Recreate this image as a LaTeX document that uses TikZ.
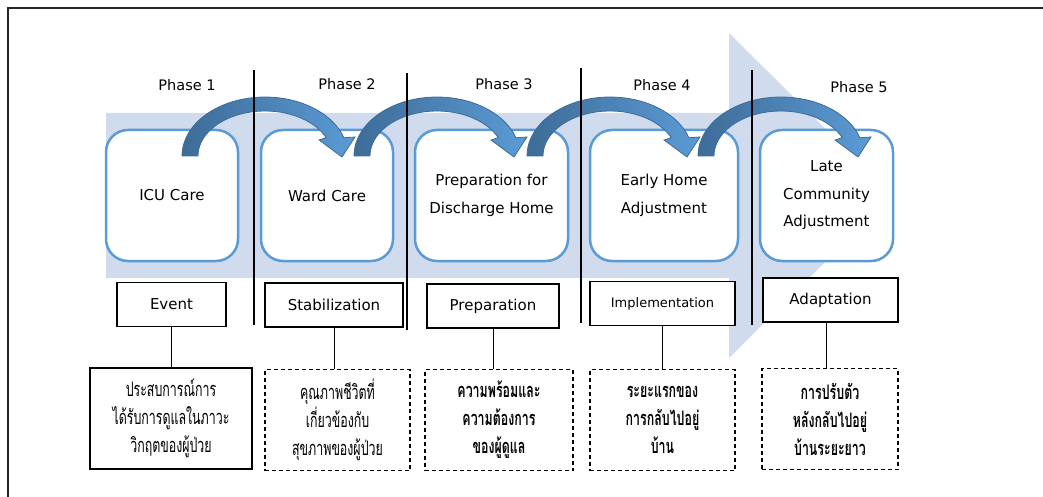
\documentclass[tikz,border=0pt]{standalone}
\usepackage{fontspec}
\setmainfont{DejaVu Sans}
\newfontfamily\thaifont[Script=Thai, FakeStretch=0.62]{Loma}
\definecolor{bandblue}{RGB}{208,220,238}
\definecolor{boxblue}{RGB}{91,155,213}
\definecolor{arrdark}{RGB}{62,108,152}
\definecolor{arrlight}{RGB}{91,155,213}
\begin{document}
\begin{tikzpicture}[x=1pt,y=-1pt,
  phaselbl/.style={inner sep=0pt, font=\fontsize{14.5}{17}\selectfont},
  stagebox/.style={draw=boxblue, line width=2.5pt, rounded corners=22pt, fill=white,
     minimum height=131pt, inner sep=0pt, align=center, font=\fontsize{15}{27.5}\selectfont},
  midbox/.style={draw=black, line width=1.2pt, fill=white, inner sep=0pt,
     minimum height=44pt, font=\fontsize{15}{18}\selectfont},
  thaibox/.style={draw=black, line width=1.2pt, fill=white, inner sep=0pt,
     minimum height=101pt, align=center, font=\thaifont\fontsize{20}{28}\selectfont},
  dashbox/.style={thaibox, dash pattern=on 4pt off 3pt},
  thaibold/.style={font=\thaifont\bfseries\fontsize{20}{28}\selectfont},
  divider/.style={line width=1.5pt, black},
  conn/.style={line width=1pt, black}
]
\useasboundingbox (0,0) rectangle (1043,497);
% frame
\draw[line width=1.2pt, black!85] (8,497) -- (8,8) -- (1043,8);
% big light arrow
\fill[bandblue] (106,113) -- (729,113) -- (729,33) -- (892,195) -- (729,358) -- (729,278) -- (106,278) -- cycle;
% stage boxes
\node[stagebox, minimum width=132pt] (s1) at (172,195.5) {ICU Care};
\node[stagebox, minimum width=132pt] (s2) at (327,195.5) {Ward Care};
\node[stagebox, minimum width=153pt] (s3) at (491.5,195.5) {Preparation for\\Discharge Home};
\node[stagebox, minimum width=148pt] (s4) at (664,195.5) {Early Home\\Adjustment};
\node[stagebox, minimum width=133pt] (s5) at (826.5,195.5) {Late\\Community\\Adjustment};
% middle boxes
\node[midbox, minimum width=109pt] (m1) at (171.5,304.5) {Event};
\node[midbox, minimum width=138pt] (m2) at (334,305) {Stabilization};
\node[midbox, minimum width=132pt] (m3) at (493,306) {Preparation};
\node[midbox, minimum width=145pt, font=\fontsize{13}{16}\selectfont] (m4) at (662.5,303.5) {Implementation};
\node[midbox, minimum width=135pt] (m5) at (830.5,300) {Adaptation};
% bottom boxes
\node[thaibox, minimum width=162pt] (t1) at (171,418.5) {ประสบการณ์การ\\ได้รับการดูแลในภาวะ\\วิกฤตของผู้ป่วย};
\node[dashbox, minimum width=145pt] (t2) at (337.5,420) {คุณภาพชีวิตที่\\เกี่ยวข้องกับ\\สุขภาพของผู้ป่วย};
\node[dashbox, thaibold, minimum width=148pt] (t3) at (499,420) {ความพร้อมและ\\ความต้องการ\\ของผู้ดูแล};
\node[dashbox, thaibold, minimum width=145pt] (t4) at (662.5,420) {ระยะแรกของ\\การกลับไปอยู่\\บ้าน};
\node[dashbox, thaibold, minimum width=136pt] (t5) at (830,419) {การปรับตัว\\หลังกลับไปอยู่\\บ้านระยะยาว};
% connectors
\draw[conn] (m1.south) -- (m1.south |- t1.north);
\draw[conn] (m2.south) -- (m2.south |- t2.north);
\draw[conn] (m3.south) -- (m3.south |- t3.north);
\draw[conn] (m4.south) -- (m4.south |- t4.north);
\draw[conn] ([xshift=-4pt]m5.south) -- ([xshift=-4pt]m5.south |- t5.north);
% curved arrows
\foreach \xo in {182,354,527,698}{
  \shadedraw[left color=arrdark, right color=arrlight, draw=arrdark, line width=0.8pt]
    plot[domain=180:18, samples=40, variable=\t] ({\xo+83+83*cos(\t)},{156-59*sin(\t)})
    -- ({\xo+173},137) -- ({\xo+160},157) -- ({\xo+137},140)
    -- plot[domain=24:180, samples=40, variable=\t] ({\xo+83+67*cos(\t)},{156-45*sin(\t)})
    -- cycle;
}
% dividers
\draw[divider] (254,70) -- (254,325);
\draw[divider] (407,73) -- (407,330);
\draw[divider] (581,68) -- (581,323);
\draw[divider] (752,70) -- (752,325);
% phase labels
\node[phaselbl] (p1) at (187,85) {Phase 1};
\node[phaselbl] (p2) at (347,84) {Phase 2};
\node[phaselbl] (p3) at (504,84) {Phase 3};
\node[phaselbl] (p4) at (662,85) {Phase 4};
\node[phaselbl] (p5) at (859,87) {Phase 5};
\end{tikzpicture}
\end{document}
